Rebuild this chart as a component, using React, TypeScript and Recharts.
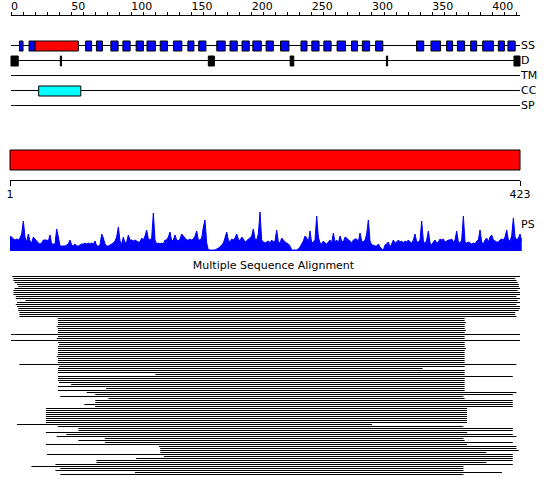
import { Area, AreaChart, Bar, BarChart, Cell, XAxis, YAxis } from "recharts";

const SEQ_LEN = 423;
const FONT = "'DejaVu Sans', sans-serif";

const trackNames = ["SS", "D", "TM", "CC", "SP"];
const trackTicks = [0, 1, 2, 3, 4];
const rulerTicks = [
  0, 10, 20, 30, 40, 50, 60, 70, 80, 90, 100, 110, 120, 130, 140, 150, 160, 170, 180, 190, 200,
  210, 220, 230, 240, 250, 260, 270, 280, 290, 300, 310, 320, 330, 340, 350, 360, 370, 380, 390,
  400, 410, 420,
];
const seqTicks = [1, 423];

// secondary structure (residue ranges)
const ssStrands = [
  [7, 10], [15, 20], [62, 67], [71, 76], [83, 89], [93, 99], [104, 110], [113, 120], [124, 130],
  [135, 142], [147, 152], [156, 162], [171, 178], [182, 188], [192, 198], [201, 208], [212, 218],
  [224, 231], [241, 246], [250, 256], [260, 266], [271, 278], [283, 288], [292, 298], [303, 309],
  [337, 343], [349, 357], [362, 367], [371, 377], [382, 387], [392, 401], [405, 410], [413, 419],
];
const ssHelices = [[20, 56]];
const disorderBlocks = [[0, 6], [164, 169], [232, 235], [418, 423]];
const disorderMarks = [[41, 42], [312, 313]];
const coiledCoils = [[23, 58]];

// posterior score profile, read left to right
const psValues = [
  15, 14, 12, 11, 12, 11, 13, 17, 30, 14, 9, 17, 10, 8, 14, 12, 10, 8, 7, 8,
  11, 11, 11, 10, 16, 7, 7, 7, 22, 14, 5, 5, 5, 5, 6, 7, 11, 6, 5, 7,
  5, 5, 6, 7, 7, 8, 7, 8, 7, 8, 7, 10, 5, 5, 6, 17, 13, 7, 5, 5,
  6, 7, 8, 10, 14, 24, 10, 7, 14, 8, 9, 16, 11, 11, 10, 11, 10, 9, 9,
  13, 11, 15, 21, 12, 11, 13, 38, 11, 7, 8, 7, 8, 7, 11, 11, 14, 19, 10, 11,
  16, 11, 10, 12, 17, 15, 13, 11, 11, 12, 11, 12, 15, 20, 11, 11, 13, 24, 31, 8,
  1, 1, 1, 1, 1, 2, 3, 4, 6, 8, 13, 19, 11, 9, 12, 11, 13, 17, 12, 10,
  14, 12, 9, 10, 12, 13, 15, 22, 12, 11, 17, 39, 11, 9, 8, 9, 10, 8, 11, 9,
  10, 21, 9, 8, 13, 11, 9, 8, 7, 5, 1, 1, 1, 1, 2, 4, 7, 10, 15, 13,
  9, 20, 8, 9, 11, 35, 14, 8, 7, 10, 8, 7, 9, 11, 8, 18, 9, 11, 8, 15,
  10, 9, 14, 13, 11, 10, 8, 11, 12, 12, 9, 18, 10, 9, 11, 17, 31, 10, 6, 6,
  5, 5, 7, 4, 2, 1, 6, 7, 9, 4, 7, 11, 8, 9, 11, 9, 10, 8, 10, 9, 11,
  9, 8, 11, 17, 9, 9, 11, 30, 10, 7, 11, 20, 8, 6, 9, 11, 8, 9, 12, 11,
  12, 9, 10, 11, 11, 12, 9, 11, 20, 9, 8, 11, 35, 9, 8, 9, 8, 7, 8, 7,
  10, 11, 21, 9, 7, 11, 13, 9, 14, 16, 11, 10, 9, 9, 11, 12, 11, 14, 21, 11,
  10, 15, 33, 14, 11, 13, 17, 10,
];

// aligned hits: covered residue range per row, top to bottom
const msaRows = [
  [1, 423], [2, 419], [2, 420], [3, 421], [5, 422], [6, 422], [3, 423], [2, 421], [2, 423], [2, 423],
  [4, 420], [4, 423], [12, 421], [5, 423], [4, 420], [5, 423], [6, 423], [6, 422], [7, 419], [7, 419],
  [7, 420], [39, 377], [39, 377], [39, 378], [39, 377], [38, 377], [39, 377], [39, 378], [39, 377], [0, 423],
  [39, 377], [38, 377], [0, 423], [39, 377], [40, 377], [39, 377], [39, 378], [39, 377], [39, 377], [39, 377],
  [38, 377], [39, 377], [39, 377], [39, 377], [7, 420], [40, 377], [39, 342], [39, 377], [39, 377], [120, 377],
  [39, 417], [39, 377], [39, 377], [40, 377], [50, 377], [39, 377], [79, 377], [39, 377], [63, 420], [70, 417],
  [41, 376], [81, 377], [70, 417], [70, 417], [61, 417], [70, 417], [29, 379], [29, 379], [29, 379], [29, 379],
  [29, 379], [29, 379], [29, 379], [29, 379], [5, 300], [39, 376], [56, 417], [56, 417], [29, 379], [46, 417],
  [38, 420], [78, 376], [56, 377], [78, 417], [29, 379], [123, 420], [124, 420], [124, 422], [124, 395], [30, 417],
  [127, 417], [104, 417], [71, 417], [71, 395], [37, 417], [17, 376], [41, 376], [37, 376], [103, 408], [41, 376],
];

const kindFill: Record<string, string> = {
  strand: "#0000ff",
  helix: "#ff0000",
  disorder: "#000000",
  coil: "#00ffff",
};

const trackLines = trackNames.map((name, i) => ({ name, track: i, range: [0, SEQ_LEN] }));
const features = [
  ...ssStrands.map((r) => ({ track: 0, range: r, kind: "strand" })),
  ...ssHelices.map((r) => ({ track: 0, range: r, kind: "helix" })),
  ...disorderBlocks.map((r) => ({ track: 1, range: r, kind: "disorder" })),
  ...disorderMarks.map((r) => ({ track: 1, range: r, kind: "disorder" })),
  ...coiledCoils.map((r) => ({ track: 3, range: r, kind: "coil" })),
];
const seqBar = [{ name: "query", range: [1, SEQ_LEN] }];
const psData = psValues.map((ps, i) => ({ pos: i, ps }));
const msaData = msaRows.map((range, i) => ({ row: i, range }));

const layer = { position: "absolute" as const, left: 0, top: 0 };
const tickStyle = { fill: "#000", fontSize: 11, fontFamily: FONT };

function renderRulerTick(props: any) {
  const { x, y, payload } = props;
  if (payload.value % 50 !== 0) return <g />;
  return (
    <text x={x} y={y} textAnchor="start" fill="#000" fontSize={11} fontFamily={FONT}>
      {payload.value}
    </text>
  );
}

export default function App() {
  return (
    <div
      style={{
        position: "absolute",
        left: 0,
        top: 0,
        width: 550,
        height: 495,
        background: "#fff",
        fontFamily: FONT,
        overflow: "hidden",
      }}
    >
      <style>{"rect, line { shape-rendering: crispEdges; }"}</style>

      {/* ruler + track baselines */}
      <div style={layer}>
        <BarChart
          width={550}
          height={120}
          layout="vertical"
          data={trackLines}
          margin={{ top: 0.5, right: 0, bottom: 14.5, left: 11 }}
        >
          <XAxis
            type="number"
            orientation="top"
            domain={[0, SEQ_LEN]}
            ticks={rulerTicks}
            interval={0}
            height={15}
            tickSize={4}
            tickMargin={2}
            stroke="#000"
            tick={renderRulerTick}
          />
          <YAxis
            type="number"
            dataKey="track"
            orientation="right"
            domain={[-2, 4]}
            ticks={trackTicks}
            interval={0}
            width={30}
            axisLine={false}
            tickLine={false}
            tickSize={0}
            tickMargin={1}
            tickFormatter={(v: number) => trackNames[v] ?? ""}
            tick={tickStyle}
          />
          <Bar dataKey="range" barSize={1} fill="#000" isAnimationActive={false} />
        </BarChart>
      </div>

      {/* feature boxes */}
      <div style={layer}>
        <BarChart
          width={550}
          height={120}
          layout="vertical"
          data={features}
          margin={{ top: 15.5, right: 30, bottom: 14.5, left: 11 }}
        >
          <XAxis type="number" domain={[0, SEQ_LEN]} hide />
          <YAxis type="number" dataKey="track" domain={[-2, 4]} hide />
          <Bar dataKey="range" barSize={10} stroke="#000" strokeWidth={1} isAnimationActive={false}>
            {features.map((f, i) => (
              <Cell key={i} fill={kindFill[f.kind]} />
            ))}
          </Bar>
        </BarChart>
      </div>

      {/* query sequence bar */}
      <div style={layer}>
        <BarChart
          width={550}
          height={215}
          layout="vertical"
          data={seqBar}
          barCategoryGap={0}
          margin={{ top: 150, right: 30, bottom: 0, left: 10 }}
        >
          <XAxis
            type="number"
            domain={[1, SEQ_LEN]}
            ticks={seqTicks}
            interval={0}
            height={34.5}
            tickSize={5}
            tickMargin={5}
            stroke="#000"
            tick={tickStyle}
          />
          <YAxis type="category" dataKey="name" hide padding={{ top: 0, bottom: 10.5 }} />
          <Bar dataKey="range" fill="#ff0000" stroke="#000" strokeWidth={1} isAnimationActive={false} />
        </BarChart>
      </div>

      {/* PS profile */}
      <div style={layer}>
        <AreaChart
          width={550}
          height={260}
          data={psData}
          margin={{ top: 211, right: 28.3, bottom: 9, left: 10 }}
        >
          <XAxis dataKey="pos" type="category" scale="point" hide />
          <YAxis type="number" domain={[0, 40]} hide allowDataOverflow />
          <Area
            type="linear"
            dataKey="ps"
            stroke="#0000ff"
            strokeWidth={1}
            fill="#0000ff"
            fillOpacity={1}
            dot={false}
            activeDot={false}
            isAnimationActive={false}
          />
        </AreaChart>
      </div>
      <div style={{ position: "absolute", left: 521, top: 218, fontSize: 11, lineHeight: "14px", color: "#000" }}>
        PS
      </div>

      <div
        style={{
          position: "absolute",
          left: 0,
          top: 259,
          width: 547,
          textAlign: "center",
          fontSize: 11,
          lineHeight: "14px",
          color: "#000",
        }}
      >
        Multiple Sequence Alignment
      </div>

      {/* alignment rows */}
      <div style={layer}>
        <BarChart
          width={550}
          height={495}
          layout="vertical"
          data={msaData}
          barCategoryGap={0}
          margin={{ top: 275, right: 30, bottom: 20, left: 11 }}
        >
          <XAxis type="number" domain={[0, SEQ_LEN]} hide />
          <YAxis type="category" dataKey="row" hide />
          <Bar dataKey="range" barSize={1} fill="#000" isAnimationActive={false} />
        </BarChart>
      </div>
    </div>
  );
}
